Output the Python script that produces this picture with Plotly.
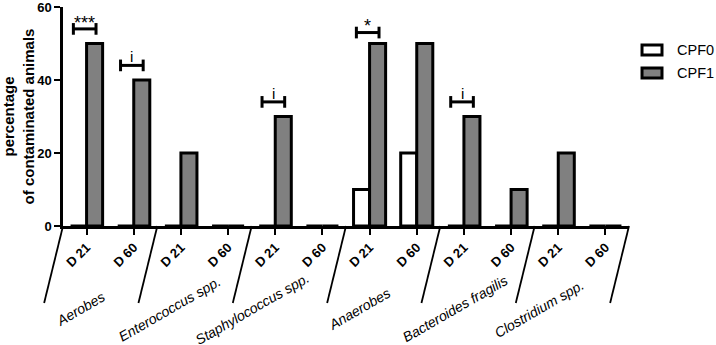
import plotly.graph_objects as go

# ---- data ----
groups = ["Aerobes", "Enterococcus spp.", "Staphylococcus spp.", "Anaerobes",
          "Bacteroides fragilis", "Clostridium spp."]
days = ["D 21", "D 60"]
tick_labels = [d for g in groups for d in days]
cpf0 = [0, 0, 0, 0, 0, 0, 10, 20, 0, 0, 0, 0]
cpf1 = [50, 40, 20, 0, 30, 0, 50, 50, 30, 10, 20, 0]
sig_pos = [0, 1, 4, 6, 8]
sig_height = [54, 44, 34, 53, 34]
sig_label = ["***", "i", "i", "*", "i"]
y_ticks = [0, 20, 40, 60]
series_names = ["CPF0", "CPF1"]
series_colors = ["white", "#808080"]

# ---- layout helpers (pixel nudges for the slanted group labels) ----
label_xshift = [-30, -35, -47, -34, -33, -43]

FONT = "Liberation Sans, Arial, sans-serif"
xpos = list(range(len(tick_labels)))
ncat = len(tick_labels)

fig = go.Figure()
for name, vals, col in zip(series_names, [cpf0, cpf1], series_colors):
    fig.add_trace(go.Bar(x=xpos, y=vals, name=name, showlegend=False,
                         marker=dict(color=col, line=dict(color="black", width=3))))

shapes = []
annotations = []
# significance brackets
for p, h, lab in zip(sig_pos, sig_height, sig_label):
    x0, x1 = p - 0.28, p + 0.2
    shapes.append(dict(type="line", xref="x", yref="y", x0=x0, x1=x1, y0=h, y1=h,
                       line=dict(color="black", width=3)))
    for xx in (x0, x1):
        shapes.append(dict(type="line", xref="x", yref="y", x0=xx, x1=xx, y0=h - 1.6, y1=h + 1.6,
                           line=dict(color="black", width=3)))
    if "*" in lab:
        annotations.append(dict(x=p - 0.04, y=h + 5.0, xref="x", yref="y", text=lab,
                                showarrow=False, yanchor="top", xanchor="center",
                                font=dict(family=FONT, size=18, color="black")))
    else:
        annotations.append(dict(x=p - 0.04, y=h - 0.5, xref="x", yref="y", text=lab,
                                showarrow=False, yanchor="bottom", xanchor="center",
                                font=dict(family=FONT, size=15, color="black")))

# slanted group dividers
for k in range(len(groups) + 1):
    b = -0.5 + 2 * k
    px = (b + 0.5) / ncat
    shapes.append(dict(type="line", xref="paper", yref="paper",
                       x0=px, y0=0, x1=px - 0.40 / ncat, y1=-0.352,
                       line=dict(color="black", width=1.8)))

# group labels
for k, g in enumerate(groups):
    annotations.append(dict(x=2 * k + 0.5, y=-0.379, xref="x", yref="paper", text=g,
                            showarrow=False, textangle=-30, xshift=label_xshift[k],
                            xanchor="center", yanchor="middle",
                            font=dict(family=FONT, size=14, color="black", style="italic")))

# legend (drawn)
legend_rows = [(0.8265, 0.7808, 0.8037), (0.7215, 0.6758, 0.6986)]
for (ytop, ybot, ytxt), name, col in zip(legend_rows, series_names, series_colors):
    shapes.append(dict(type="rect", xref="paper", yref="paper", x0=1.0230, x1=1.0583,
                       y0=ybot, y1=ytop, fillcolor=col,
                       line=dict(color="black", width=3)))
    annotations.append(dict(x=1.0813, y=ytxt, xref="paper", yref="paper", text=name,
                            showarrow=False, xanchor="left", yanchor="middle",
                            font=dict(family=FONT, size=14.5, color="black")))

fig.update_layout(
    width=716, height=345,
    margin=dict(l=63, r=87, t=7, b=119),
    paper_bgcolor="white", plot_bgcolor="white",
    barmode="group", bargap=0.32, bargroupgap=0,
    font=dict(family=FONT, color="black"),
    shapes=shapes, annotations=annotations,
    showlegend=False,
)
fig.update_xaxes(range=[-0.5, ncat - 0.5], tickmode="array", tickvals=xpos,
                 ticktext=tick_labels, tickangle=-45, automargin=False,
                 tickfont=dict(family=FONT, size=13, color="black", weight="bold"),
                 showline=True, linecolor="black", linewidth=2.5,
                 ticks="outside", ticklen=6, tickwidth=2, tickcolor="black",
                 showgrid=False, zeroline=False)
fig.update_yaxes(range=[0, 60], tickmode="array", tickvals=y_ticks,
                 ticklabeloverflow="allow", automargin=False,
                 tickfont=dict(family=FONT, size=13, color="black", weight="bold"),
                 showline=True, linecolor="black", linewidth=2.5,
                 ticks="outside", ticklen=6, tickwidth=2, tickcolor="black",
                 showgrid=False, zeroline=False,
                 title=dict(text="percentage<br>of contaminated animals", standoff=3,
                            font=dict(family=FONT, size=15, color="black", weight="bold")))

# the page's default 8px body margin would shift the figure; remove it
fig.write_html("out.html", config={"displayModeBar": False},
               post_script="document.body.style.margin='0';")
